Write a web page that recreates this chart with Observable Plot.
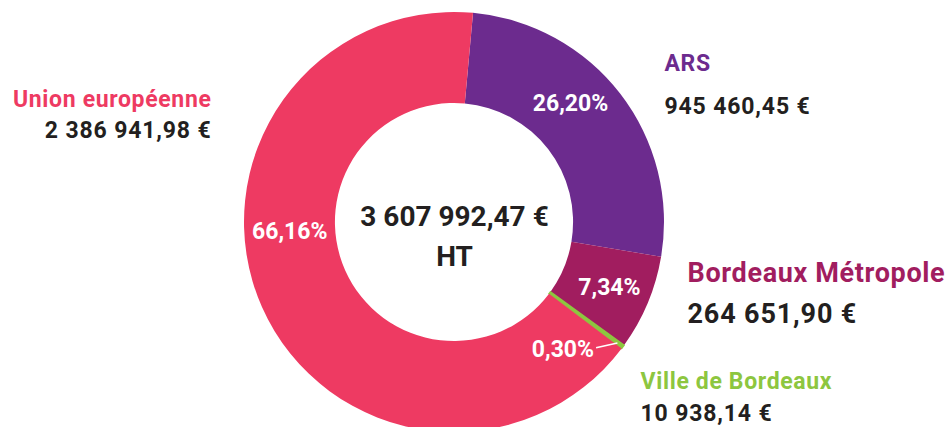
<!DOCTYPE html>
<html>
<head>
<meta charset="utf-8">
<script src="https://cdn.jsdelivr.net/npm/d3@7"></script>
<script src="https://cdn.jsdelivr.net/npm/@observablehq/plot@0.6"></script>
<style>
  html, body { margin: 0; padding: 0; background: #fff; }
  #chart svg { display: block; }
</style>
</head>
<body>
<div id="chart"></div>
<script>
// ---- data ----
const sources = ["ARS", "Bordeaux Métropole", "Ville de Bordeaux", "Union européenne"];
const amounts = [945460.45, 264651.90, 10938.14, 2386941.98];
const shareLabels = ["26,20%", "7,34%", "0,30%", "66,16%"];
const amountLabels = ["945 460,45 €", "264 651,90 €", "10 938,14 €", "2 386 941,98 €"];
const sliceColors = ["#6c2b8e", "#a11d5f", "#8dc63f", "#ee3a62"];
const totalLabel = ["3 607 992,47 €", "HT"];

// ---- layout ----
const W = 949, H = 427;
const cx = 454, cy = 222, R = 210;
const innerRatio = 0.567;
const rotation = 5.2 * Math.PI / 180;
const font = "Roboto, 'DejaVu Sans', sans-serif";
const ink = "#231f20";

const pie = d3.pie().sort(null).startAngle(rotation).endAngle(rotation + 2 * Math.PI)(amounts);
const slices = pie.map((p, i) => ({
  source: sources[i], share: shareLabels[i], amount: amountLabels[i],
  color: sliceColors[i], start: p.startAngle, end: p.endAngle, mid: (p.startAngle + p.endAngle) / 2
}));

// label placement tweaks (angle shift in degrees, radius in units of R)
const shareLabelPlacement = {
  "ARS": {shift: -8, rho: 0.79, anchor: "middle"},
  "Bordeaux Métropole": {shift: 0, rho: 0.80, anchor: "middle"},
  "Ville de Bordeaux": {shift: 5, rho: 0.90, anchor: "end", dx: -2, dy: 2},
  "Union européenne": {shift: 20.6, rho: 0.786, anchor: "middle"}
};
const polar = (a, rho) => ({x: rho * Math.sin(a), y: rho * Math.cos(a)});
const shareMarks = slices.map(s => {
  const p = shareLabelPlacement[s.source];
  const pt = polar(s.mid + p.shift * Math.PI / 180, p.rho);
  return Plot.text([{...s, ...pt}], {
    x: "x", y: "y", text: "share", fill: "white",
    fontSize: 23, fontWeight: 700, fontFamily: font,
    textAnchor: p.anchor, lineAnchor: "middle", dx: p.dx || 0, dy: p.dy || 0
  });
});

// leader line for the smallest slice
const small = slices[2];
const smallP = shareLabelPlacement[small.source];
const leaderStart = polar(small.mid + smallP.shift * Math.PI / 180, smallP.rho);
const leaderEnd = polar(small.mid, 0.965);
const leader = [{x1: leaderStart.x, y1: leaderStart.y, x2: leaderEnd.x, y2: leaderEnd.y}];

// outside labels: source index, x, baselines, anchor, size
const outside = [
  {i: 3, x: 211, y: 106, y2: 137, anchor: "end", size: 23},
  {i: 0, x: 664, y: 70, y2: 113.5, anchor: "start", size: 23},
  {i: 1, x: 687, y: 281, y2: 322, anchor: "start", size: 27},
  {i: 2, x: 640, y: 388.5, y2: 420, anchor: "start", size: 23}
];
const outsideMarks = outside.flatMap(o => [
  Plot.text([sources[o.i]], {
    frameAnchor: "top-left", dx: o.x, dy: o.y, text: d => d,
    fill: sliceColors[o.i], fontSize: o.size, fontWeight: 700, fontFamily: font,
    textAnchor: o.anchor, lineAnchor: "bottom"
  }),
  Plot.text([amountLabels[o.i]], {
    frameAnchor: "top-left", dx: o.x, dy: o.y2, text: d => d,
    fill: ink, fontSize: o.size, fontWeight: 700, fontFamily: font,
    textAnchor: o.anchor, lineAnchor: "bottom"
  })
]);

// donut arcs drawn via the plot's x/y scales
function donut(index, scales) {
  const sx = scales.x, sy = scales.y;
  const ox = sx(0), oy = sy(0), rad = sx(1) - sx(0);
  const arc = d3.arc().innerRadius(rad * innerRatio).outerRadius(rad);
  const g = d3.create("svg:g").attr("transform", `translate(${ox},${oy})`);
  g.selectAll("path").data(slices).join("path")
    .attr("d", d => arc({startAngle: d.start, endAngle: d.end}))
    .attr("fill", d => d.color)
    .attr("stroke", d => d.source === "Ville de Bordeaux" ? d.color : "none")
    .attr("stroke-width", 1.5);
  return g.node();
}

const chart = Plot.plot({
  width: W, height: H,
  margin: 0,
  style: {background: "white", overflow: "hidden"},
  x: {domain: [-1, 1], range: [cx - R, cx + R], axis: null},
  y: {domain: [-1, 1], range: [cy + R, cy - R], axis: null},
  marks: [
    donut,
    Plot.link(leader, {x1: "x1", y1: "y1", x2: "x2", y2: "y2", stroke: "white", strokeWidth: 1.5}),
    ...shareMarks,
    Plot.text([totalLabel[0]], {x: 0, y: 0, text: d => d, dy: 3, fill: ink, fontSize: 28, fontWeight: 700,
      fontFamily: font, textAnchor: "middle", lineAnchor: "bottom"}),
    Plot.text([totalLabel[1]], {x: 0, y: 0, text: d => d, dy: 43, fill: ink, fontSize: 28, fontWeight: 700,
      fontFamily: font, textAnchor: "middle", lineAnchor: "bottom"}),
    ...outsideMarks
  ]
});
// slightly wider tracking on the outside labels
chart.querySelectorAll("text").forEach(t => {
  const s = t.textContent.trim();
  if (sources.includes(s)) t.style.letterSpacing = "0.65px";
  else if (amountLabels.includes(s)) t.style.letterSpacing = "0.85px";
});
document.getElementById("chart").appendChild(chart);
</script>
</body>
</html>
